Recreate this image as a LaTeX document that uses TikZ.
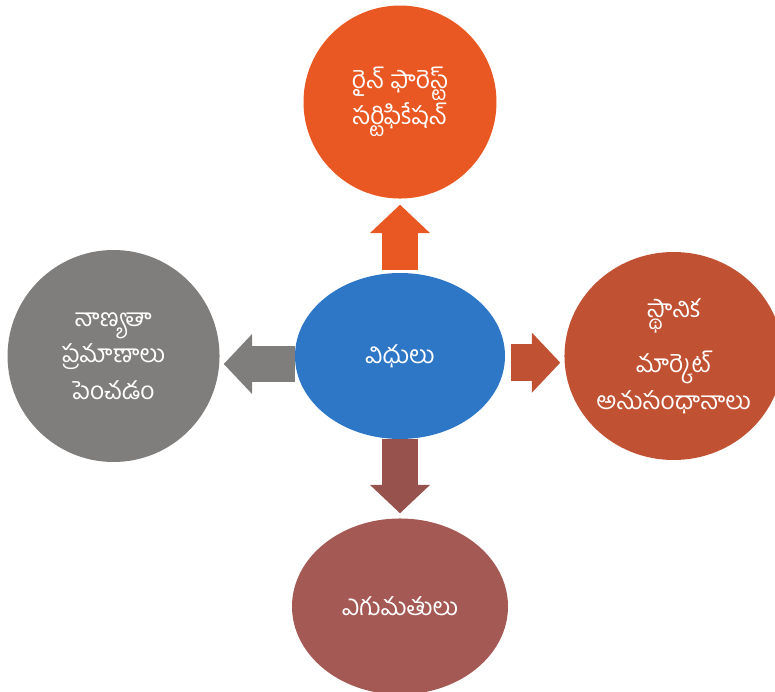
\documentclass[tikz,border=0pt]{standalone}
\usepackage{fontspec}
\newfontfamily\telugu[Script=Telugu]{Hind Guntur}
\usetikzlibrary{arrows.meta,positioning,shapes.geometric}
\definecolor{dutyblue}{RGB}{46,119,198}
\definecolor{certorange}{RGB}{233,88,34}
\definecolor{qualitygrey}{RGB}{127,126,124}
\definecolor{marketred}{RGB}{192,81,50}
\definecolor{exportbrown}{RGB}{164,89,85}
\begin{document}
\begin{tikzpicture}[
blob/.style={ellipse,inner sep=0pt,align=center,text=white,font=\telugu\fontsize{21}{31}\selectfont},
arr/.style={-{Triangle[width=1.8cm,length=0.85cm,line width=0pt]},line width=1.1cm}]
\clip(-12,10.68) rectangle (11.25,-10.05);
\node[blob,fill=dutyblue,minimum width=6.3cm,minimum height=4.98cm](duties){విధులు};
\node[blob,fill=certorange,minimum size=5.79cm,above=2.22cm of duties](cert){రైన్ ఫారెస్ట్\\సర్టిఫికేషన్};
\node[blob,fill=qualitygrey,minimum size=6.36cm,left=2.25cm of duties](quality){నాణ్యతా\\ప్రమాణాలు\\పెంచడం};
\node[blob,fill=marketred,minimum size=6.24cm,right=1.77cm of duties](market){స్థానిక\\[15pt]మార్కెట్\\అనుసంధానాలు};
\node[blob,fill=exportbrown,minimum width=6.48cm,minimum height=5.28cm,below=2.37cm of duties](export){ఎగుమతులు};
\draw[arr,certorange,shorten <=0.09cm,shorten >=0.18cm](duties.north)--(cert.south);
\draw[arr,qualitygrey,shorten >=0.12cm]([yshift=-0.24cm]duties.west)--([yshift=-0.24cm]quality.east);
\draw[arr,marketred,shorten <=0.18cm,shorten >=0.12cm]([yshift=-0.2cm]duties.east)--([yshift=-0.2cm]market.west);
\draw[arr,exportbrown!92!black,shorten >=0.15cm](duties.south)--(export.north);
\end{tikzpicture}
\end{document}
